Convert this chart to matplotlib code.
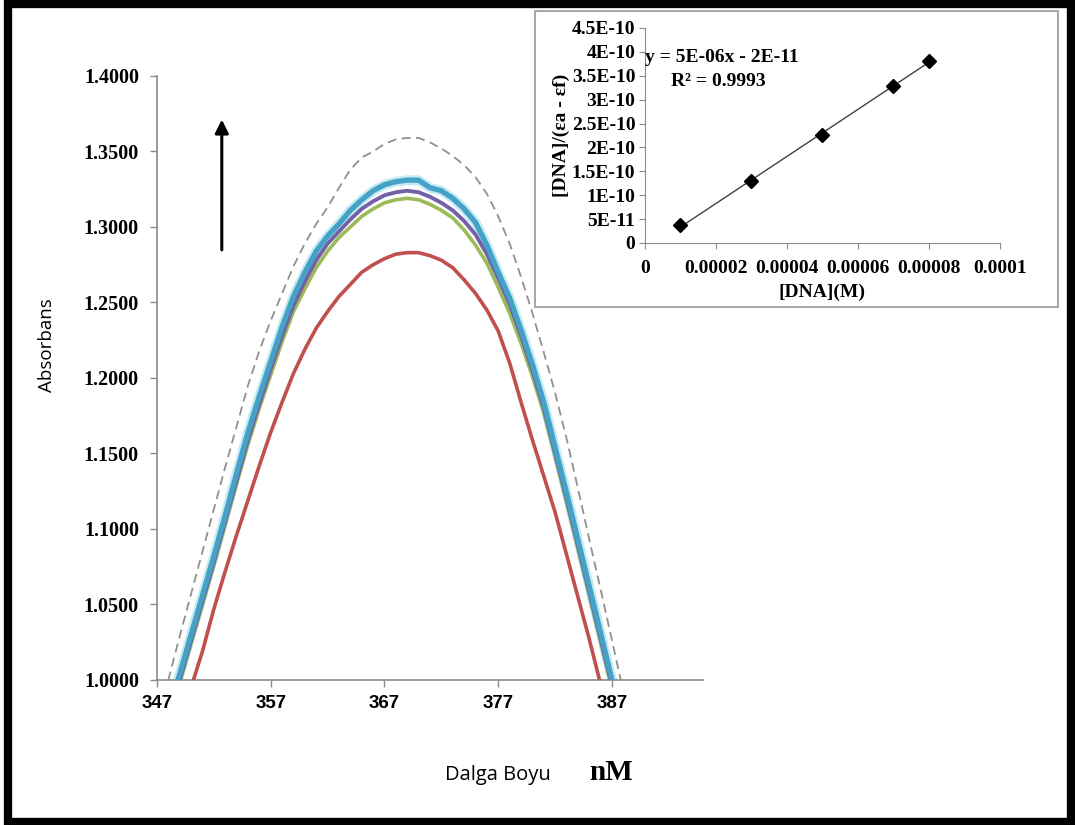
import numpy as np
import matplotlib
matplotlib.use("Agg")
import matplotlib.pyplot as plt
from matplotlib.patches import Rectangle

# wavelength grid (nm) and absorbance readings
wavelength = list(range(347, 389))

abs_dashed = [0.972, 1.000, 1.029, 1.057, 1.085, 1.113, 1.141, 1.168, 1.195, 1.218,
              1.238, 1.256, 1.274, 1.289, 1.302, 1.313, 1.326, 1.338, 1.346, 1.350,
              1.355, 1.358, 1.359, 1.359, 1.356, 1.352, 1.347, 1.341, 1.333, 1.322,
              1.307, 1.289, 1.267, 1.243, 1.217, 1.190, 1.160, 1.127, 1.093, 1.060,
              1.026, 0.992]
abs_red = [0.922, 0.946, 0.970, 0.995, 1.019, 1.047, 1.072, 1.096, 1.119, 1.142,
           1.164, 1.184, 1.203, 1.219, 1.233, 1.244, 1.254, 1.262, 1.270, 1.275,
           1.279, 1.282, 1.283, 1.283, 1.281, 1.278, 1.273, 1.265, 1.256, 1.245,
           1.231, 1.210, 1.184, 1.159, 1.135, 1.111, 1.083, 1.055, 1.027, 0.997,
           0.968, 0.939]
abs_green = [0.946, 0.972, 0.998, 1.024, 1.050, 1.076, 1.103, 1.130, 1.156, 1.180,
             1.202, 1.224, 1.244, 1.259, 1.273, 1.284, 1.293, 1.300, 1.307, 1.312,
             1.316, 1.318, 1.319, 1.318, 1.315, 1.311, 1.306, 1.298, 1.288, 1.276,
             1.260, 1.243, 1.223, 1.201, 1.177, 1.148, 1.118, 1.087, 1.056, 1.025,
             0.994, 0.963]
abs_purple = [0.948, 0.974, 1.000, 1.026, 1.052, 1.078, 1.105, 1.132, 1.159, 1.183,
              1.206, 1.228, 1.248, 1.264, 1.278, 1.289, 1.297, 1.305, 1.312, 1.317,
              1.321, 1.323, 1.324, 1.323, 1.320, 1.316, 1.311, 1.304, 1.295, 1.282,
              1.266, 1.249, 1.228, 1.205, 1.180, 1.150, 1.120, 1.089, 1.058, 1.027,
              0.996, 0.965]
abs_cyan = [0.952, 0.978, 1.004, 1.030, 1.056, 1.082, 1.109, 1.137, 1.164, 1.188,
            1.211, 1.234, 1.254, 1.270, 1.284, 1.294, 1.302, 1.311, 1.318, 1.324,
            1.328, 1.330, 1.331, 1.331, 1.326, 1.324, 1.319, 1.312, 1.303, 1.288,
            1.270, 1.253, 1.232, 1.209, 1.184, 1.154, 1.124, 1.093, 1.062, 1.031,
            1.000, 0.969]

x_ticks = [347, 357, 367, 377, 387]
y_ticks = [1.00, 1.05, 1.10, 1.15, 1.20, 1.25, 1.30, 1.35, 1.40]
y_ticklabels = ["1.0000", "1.0500", "1.1000", "1.1500", "1.2000",
                "1.2500", "1.3000", "1.3500", "1.4000"]

# inset: binding plot
dna_conc = [0.00001, 0.00003, 0.00005, 0.00007, 0.00008]
dna_ratio = [3.7e-11, 1.29e-10, 2.27e-10, 3.29e-10, 3.81e-10]
inset_xticks = [0, 0.00002, 0.00004, 0.00006, 0.00008, 0.0001]
inset_xticklabels = ["0", "0.00002", "0.00004", "0.00006", "0.00008", "0.0001"]
inset_yticks = [0, 5e-11, 1e-10, 1.5e-10, 2e-10, 2.5e-10, 3e-10, 3.5e-10, 4e-10, 4.5e-10]
inset_yticklabels = ["0", "5E-11", "1E-10", "1.5E-10", "2E-10", "2.5E-10",
                     "3E-10", "3.5E-10", "4E-10", "4.5E-10"]

SERIF = "Liberation Serif"
SANS = "Liberation Sans"
LABEL = "Open Sans"
spine_grey = "#8a8a8a"

fig = plt.figure(figsize=(10.75, 8.25), dpi=100)
fig.patch.set_facecolor("white")

# ---------- main spectrum ----------
ax = fig.add_axes([0.146, 0.1758, 0.508, 0.7321])
ax.plot(wavelength, abs_dashed, color="#909090", lw=1.3, ls=(0, (5, 3)), zorder=2)
ax.plot(wavelength, abs_cyan, color="#c4ebf5", lw=7, solid_capstyle="butt", zorder=2)
ax.plot(wavelength, abs_red, color="#c0504d", lw=2.6, zorder=3)
ax.plot(wavelength, abs_green, color="#9bbb59", lw=2.6, zorder=4)
ax.plot(wavelength, abs_purple, color="#7460a4", lw=2.8, zorder=5)
ax.plot(wavelength, abs_cyan, color="#45a2c6", lw=3.8, zorder=6)

ax.set_xlim(347, 395)
ax.set_ylim(1.0, 1.4)
ax.set_xticks(x_ticks)
ax.set_xticklabels([str(t) for t in x_ticks], fontfamily=SANS, fontweight="bold", fontsize=13.5)
ax.set_yticks(y_ticks)
ax.set_yticklabels(y_ticklabels, fontfamily=SERIF, fontweight="bold", fontsize=14.5)
for s in ["top", "right"]:
    ax.spines[s].set_visible(False)
for s in ["left", "bottom"]:
    ax.spines[s].set_color(spine_grey)
    ax.spines[s].set_linewidth(1.2)
ax.tick_params(axis="both", direction="out", length=5, color=spine_grey, width=1.0)
ax.tick_params(axis="x", pad=6)
ax.tick_params(axis="y", pad=8)

ax.annotate("", xy=(352.7, 1.373), xytext=(352.7, 1.283),
            arrowprops=dict(arrowstyle="-|>", color="black", lw=2.2, mutation_scale=20))

fig.text(47 / 1075, 1 - 345 / 825, "Absorbans", rotation=90, ha="center", va="center",
         fontfamily=LABEL, fontsize=13.5)
fig.text(498 / 1075, 1 - 775 / 825, "Dalga Boyu", ha="center", va="center",
         fontfamily=LABEL, fontsize=14.5)
fig.text(611 / 1075, 1 - 773 / 825, "nM", ha="center", va="center",
         fontfamily=SERIF, fontweight="bold", fontsize=21)

# ---------- inset frame ----------
fig.patches.append(Rectangle((535 / 1075, 1 - 307 / 825), 523 / 1075, 296 / 825,
                             transform=fig.transFigure, facecolor="white",
                             edgecolor="#a8a8a8", lw=1.5, zorder=1))

ins = fig.add_axes([0.6, 0.7055, 0.3302, 0.2606], zorder=2)
ins.patch.set_alpha(0)
fit = np.polyfit(dna_conc, dna_ratio, 1)
xs = np.array([dna_conc[0], dna_conc[-1]])
ins.plot(xs, np.polyval(fit, xs), color="#404040", lw=1.0)
ins.plot(dna_conc, dna_ratio, ls="none", marker="D", ms=7, color="black")
ins.set_xlim(0, 0.0001)
ins.set_ylim(0, 4.5e-10)
ins.set_xticks(inset_xticks)
ins.set_xticklabels(inset_xticklabels, fontfamily=SERIF, fontweight="bold", fontsize=14)
ins.set_yticks(inset_yticks)
ins.set_yticklabels(inset_yticklabels, fontfamily=SERIF, fontweight="bold", fontsize=14)
for s in ["top", "right"]:
    ins.spines[s].set_visible(False)
for s in ["left", "bottom"]:
    ins.spines[s].set_color(spine_grey)
ins.tick_params(axis="both", direction="out", length=4, color=spine_grey, pad=3)
ins.tick_params(axis="x", pad=8)
ins.set_xlabel("[DNA](M)", fontfamily=SERIF, fontweight="bold", fontsize=14, labelpad=5)
ins.set_ylabel("[DNA]/(εa - εf)", fontfamily=SERIF, fontweight="bold", fontsize=14, labelpad=1)
fig.text(722 / 1075, 1 - 58 / 825, "y = 5E-06x - 2E-11", ha="center", va="center",
         fontfamily=SERIF, fontweight="bold", fontsize=14, zorder=3)
fig.text(718 / 1075, 1 - 81 / 825, "R² = 0.9993", ha="center", va="center",
         fontfamily=SERIF, fontweight="bold", fontsize=14, zorder=3)

# ---------- outer black border ----------
fig.patches.append(Rectangle((8 / 1075, 3.5 / 825), 1063 / 1075, 818 / 825,
                             transform=fig.transFigure, facecolor="none",
                             edgecolor="black", lw=6, zorder=5))

fig.savefig("out.png", dpi=100)
